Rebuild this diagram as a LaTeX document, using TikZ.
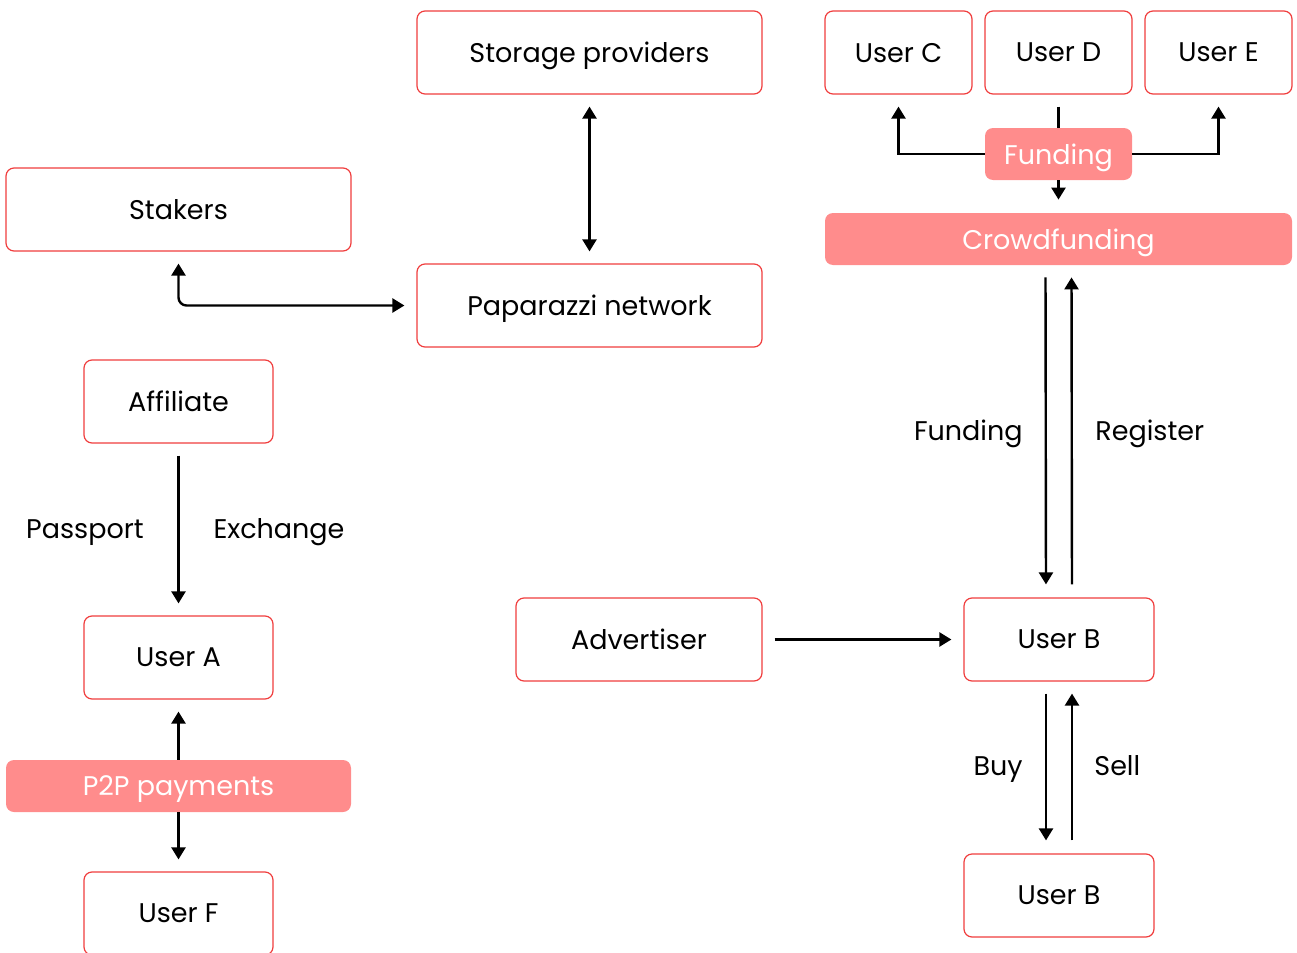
\documentclass[tikz,border=0pt]{standalone}
\usepackage{fontspec}
\setmainfont{Poppins}
\usetikzlibrary{calc}
\usetikzlibrary{arrows.meta}
\definecolor{boxred}{RGB}{240,62,62}
\definecolor{boxpink}{RGB}{255,140,140}
\tikzset{
    box/.style={draw=boxred, line width=0.6pt, rounded corners=4pt, inner sep=0pt,
        minimum height=41.5pt, text depth=0pt, font=\fontsize{13.5}{16}\selectfont},
    tag/.style={fill=boxpink, text=white, rounded corners=4pt, inner sep=0pt,
        minimum height=26pt, text depth=0pt, font=\fontsize{13.5}{16}\selectfont},
    lbl/.style={inner sep=0pt, text depth=0pt, font=\fontsize{13.5}{16}\selectfont},
    flow/.style={line width=1.2pt, -{Triangle[width=7pt,length=6pt]}},
    both/.style={line width=1.2pt, {Triangle[width=7pt,length=6pt]}-{Triangle[width=7pt,length=6pt]}},
    line/.style={line width=1.2pt}
}

\begin{document}
\begin{tikzpicture}[x=0.5pt, y=-0.5pt]
            \useasboundingbox (0,0) rectangle (1297,953);

            % Draw the top boxes
            \node[box, minimum width=172.5pt] (storage) at (589.5, 52.5) {Storage providers};
            \node[box, minimum width=73.5pt] (userc) at (898.5, 52.5) {User C};
            \node[box, minimum width=73.5pt] (userd) at (1058.5, 52.5) {User D};
            \node[box, minimum width=73.5pt] (usere) at (1218.5, 52.5) {User E};

            \node[box, minimum width=172.5pt] (stakers) at (178.5, 209.5) {Stakers};
            \node[box, minimum width=172.5pt] (paparazzi) at (589.5, 305.5) {Paparazzi network};

            \node[tag, minimum width=73.5pt] (funding) at (1058.5, 154) {Funding};
            \node[tag, minimum width=233.5pt] (crowd) at (1058.5, 239) {Crowdfunding};

            % Draw the left column
            \node[box, minimum width=94.5pt] (affiliate) at (178.5, 401.5) {Affiliate};
            \node[box, minimum width=94.5pt] (usera) at (178.5, 657.5) {User A};
            \node[tag, minimum width=172.5pt] (p2p) at (178.5, 786) {P2P payments};
            \node[box, minimum width=94.5pt] (userf) at (178.5, 913.5) {User F};

            % Draw the lower right boxes
            \node[box, minimum width=123pt] (advertiser) at (639, 639.5) {Advertiser};
            \node[box, minimum width=95pt] (userb) at (1059, 639.5) {User B};
            \node[box, minimum width=95pt] (userbb) at (1059, 895.5) {User B};

            % Draw the labels
            \node[lbl, anchor=east] (lfund) at (1023, 430) {Funding};
            \node[lbl, anchor=west] (lreg) at (1095, 430) {Register};
            \node[lbl] (lpass) at (85, 529) {Passport};
            \node[lbl] (lexch) at (279, 529) {Exchange};
            \node[lbl, anchor=east] (lbuy) at (1023, 766) {Buy};
            \node[lbl, anchor=west] (lsell) at (1094, 766) {Sell};

            % Draw the arrows
            \draw[both, shorten <=6pt, shorten >=6pt] (storage) -- (paparazzi);
            \draw[both, rounded corners=4pt, shorten <=6pt, shorten >=6pt] (stakers.south) |- (paparazzi.west);

            \draw[line, shorten <=6pt] (userd) -- (funding);
            \draw[flow, shorten >=6.5pt] (funding) -- (crowd);
            \draw[flow, shorten >=6pt] (funding.west) -| (userc.south);
            \draw[flow, shorten >=6pt] (funding.east) -| (usere.south);

            \draw[flow, shorten <=6pt, shorten >=6.5pt] ([xshift=-6.5pt]crowd.south) -- ([xshift=-6.5pt]userb.north);
            \draw[flow, shorten <=6.5pt, shorten >=6pt] ([xshift=6.5pt]userb.north) -- ([xshift=6.5pt]crowd.south);

            \draw[flow, shorten <=6pt, shorten >=6pt] (affiliate) -- (usera);
            \draw[flow, shorten >=6pt] (p2p) -- (usera);
            \draw[flow, shorten >=6pt] (p2p) -- (userf);

            \draw[flow, shorten <=6pt, shorten >=6pt] (advertiser) -- (userb);

            \draw[flow, shorten <=6pt, shorten >=6.5pt] ([xshift=-6.5pt]userb.south) -- ([xshift=-6.5pt]userbb.north);
            \draw[flow, shorten <=6.5pt, shorten >=6pt] ([xshift=6.5pt]userbb.north) -- ([xshift=6.5pt]userb.south);

        \end{tikzpicture}
\end{document}
